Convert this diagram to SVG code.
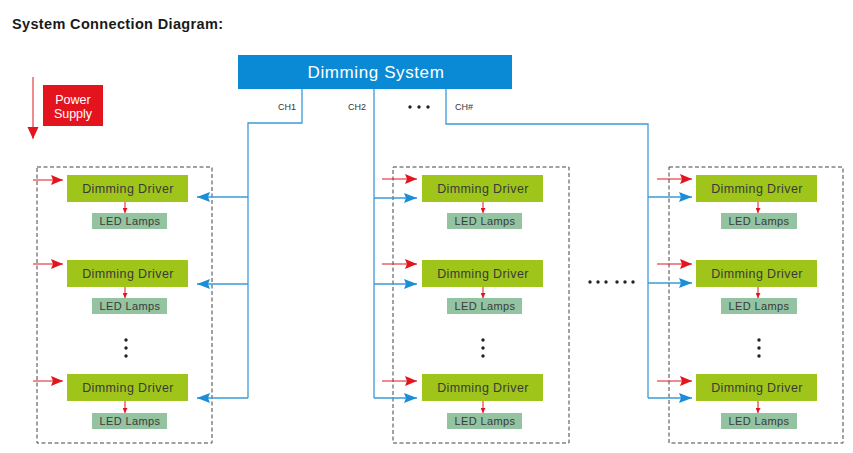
<svg xmlns="http://www.w3.org/2000/svg" width="853" height="453" viewBox="0 0 853 453">
<style>
.drv{fill:#9fc51a}
.led{fill:#93c3a0}
.t{font-family:"Liberation Sans",Arial,sans-serif;fill:#3a3a3a;text-anchor:middle}
.dt{font-size:12.5px;letter-spacing:0.4px}
.lt{font-size:11px;letter-spacing:0.4px}
.ch{font-family:"Liberation Sans",Arial,sans-serif;font-size:9px;fill:#333}
.grp{fill:none;stroke:#444;stroke-width:1;stroke-dasharray:4,2.5}
.red{stroke:#e3141e;stroke-width:1;fill:none}
.blue{stroke:#3a9ad9;stroke-width:1.3;fill:none}
.dot{fill:#222}
</style>
<defs>
<marker id="ar" markerUnits="userSpaceOnUse" markerWidth="12" markerHeight="10" refX="12" refY="5" orient="auto"><path d="M0,0 L12,5 L0,10 L2,5 z" fill="#e3141e"/></marker>
<marker id="ab" markerUnits="userSpaceOnUse" markerWidth="13" markerHeight="10" refX="13" refY="5" orient="auto"><path d="M0,0 L13,5 L0,10 L2,5 z" fill="#1a8ed8"/></marker>
<marker id="as" markerUnits="userSpaceOnUse" markerWidth="5" markerHeight="5" refX="5" refY="2.5" orient="auto"><path d="M0,0 L5,2.5 L0,5 z" fill="#e3141e"/></marker>
<marker id="ap" markerUnits="userSpaceOnUse" markerWidth="11" markerHeight="12" refX="12" refY="5.5" orient="auto"><path d="M0,0 L12,5.5 L0,11 z" fill="#e3141e"/></marker>
</defs>
<rect width="853" height="453" fill="#fff"/>
<text x="12" y="29" font-family="Liberation Sans,Arial,sans-serif" font-weight="bold" font-size="14.5" letter-spacing="0.35" fill="#1a1a1a">System Connection Diagram:</text>

<g id="dimming-system">
<rect x="238" y="55" width="274" height="34" fill="#0a8ad4"/>
<text x="376" y="78" font-family="Liberation Sans,Arial,sans-serif" font-size="17" fill="#fff" text-anchor="middle" letter-spacing="0.6">Dimming System</text>
</g>
<g id="power-supply">
<rect x="43" y="85" width="60" height="41" fill="#e3141e"/>
<text x="73" y="104" font-family="Liberation Sans,Arial,sans-serif" font-size="12.5" fill="#fff" text-anchor="middle">Power</text>
<text x="73" y="118" font-family="Liberation Sans,Arial,sans-serif" font-size="12.5" fill="#fff" text-anchor="middle">Supply</text>
</g>
<g id="labels">
<text class="ch" x="278" y="110">CH1</text>
<text class="ch" x="348" y="110">CH2</text>
<text class="ch" x="455" y="110">CH#</text>
<circle class="dot" cx="410" cy="107" r="1.7"/><circle class="dot" cx="419" cy="107" r="1.7"/><circle class="dot" cx="428" cy="107" r="1.7"/>
<circle class="dot" cx="590" cy="282" r="1.7"/><circle class="dot" cx="598" cy="282" r="1.7"/><circle class="dot" cx="606" cy="282" r="1.7"/>
<circle class="dot" cx="617" cy="282" r="1.7"/><circle class="dot" cx="625" cy="282" r="1.7"/><circle class="dot" cx="633" cy="282" r="1.7"/>
</g>

<g id="group1">
<rect class="grp" x="37" y="167" width="175" height="276"/>
<rect class="drv" x="67" y="175" width="121" height="27"/><text class="t dt" x="128" y="193">Dimming Driver</text>
<rect class="led" x="92" y="213" width="75" height="16"/><text class="t lt" x="130" y="225">LED Lamps</text>
<rect class="drv" x="67" y="260" width="121" height="27"/><text class="t dt" x="128" y="278">Dimming Driver</text>
<rect class="led" x="92" y="298" width="75" height="16"/><text class="t lt" x="130" y="310">LED Lamps</text>
<circle class="dot" cx="126" cy="340" r="1.7"/><circle class="dot" cx="126" cy="348" r="1.7"/><circle class="dot" cx="126" cy="356" r="1.7"/>
<rect class="drv" x="67" y="374" width="121" height="27"/><text class="t dt" x="128" y="392">Dimming Driver</text>
<rect class="led" x="92" y="413" width="75" height="16"/><text class="t lt" x="130" y="425">LED Lamps</text>
</g>

<g id="group2">
<rect class="grp" x="393" y="167" width="176" height="276"/>
<rect class="drv" x="422" y="175" width="121" height="27"/><text class="t dt" x="483" y="193">Dimming Driver</text>
<rect class="led" x="447" y="213" width="75" height="16"/><text class="t lt" x="485" y="225">LED Lamps</text>
<rect class="drv" x="422" y="260" width="121" height="27"/><text class="t dt" x="483" y="278">Dimming Driver</text>
<rect class="led" x="447" y="298" width="75" height="16"/><text class="t lt" x="485" y="310">LED Lamps</text>
<circle class="dot" cx="483" cy="340" r="1.7"/><circle class="dot" cx="483" cy="348" r="1.7"/><circle class="dot" cx="483" cy="356" r="1.7"/>
<rect class="drv" x="422" y="374" width="121" height="27"/><text class="t dt" x="483" y="392">Dimming Driver</text>
<rect class="led" x="447" y="413" width="75" height="16"/><text class="t lt" x="485" y="425">LED Lamps</text>
</g>

<g id="group3">
<rect class="grp" x="669" y="167" width="174" height="276"/>
<rect class="drv" x="696" y="175" width="121" height="27"/><text class="t dt" x="757" y="193">Dimming Driver</text>
<rect class="led" x="721" y="213" width="76" height="16"/><text class="t lt" x="759" y="225">LED Lamps</text>
<rect class="drv" x="696" y="260" width="121" height="27"/><text class="t dt" x="757" y="278">Dimming Driver</text>
<rect class="led" x="721" y="298" width="76" height="16"/><text class="t lt" x="759" y="310">LED Lamps</text>
<circle class="dot" cx="759" cy="340" r="1.7"/><circle class="dot" cx="759" cy="348" r="1.7"/><circle class="dot" cx="759" cy="356" r="1.7"/>
<rect class="drv" x="696" y="374" width="121" height="27"/><text class="t dt" x="757" y="392">Dimming Driver</text>
<rect class="led" x="721" y="413" width="76" height="16"/><text class="t lt" x="759" y="425">LED Lamps</text>
</g>

<g id="connectors">
<line class="red" x1="33" y1="77" x2="33" y2="139" stroke-width="1.3" marker-end="url(#ap)"/>
<polyline class="blue" points="302,89 302,123 248,123 248,398"/>
<polyline class="blue" points="374,89 374,398"/>
<polyline class="blue" points="446,89 446,124 648,124 648,398"/>
<line class="blue" x1="248" y1="197" x2="197" y2="197" marker-end="url(#ab)"/>
<line class="blue" x1="248" y1="284" x2="197" y2="284" marker-end="url(#ab)"/>
<line class="blue" x1="248" y1="398" x2="197" y2="398" marker-end="url(#ab)"/>
<line class="blue" x1="374" y1="198" x2="417" y2="198" marker-end="url(#ab)"/>
<line class="blue" x1="374" y1="284" x2="417" y2="284" marker-end="url(#ab)"/>
<line class="blue" x1="374" y1="398" x2="417" y2="398" marker-end="url(#ab)"/>
<line class="blue" x1="648" y1="197" x2="692" y2="197" marker-end="url(#ab)"/>
<line class="blue" x1="648" y1="283" x2="692" y2="283" marker-end="url(#ab)"/>
<line class="blue" x1="648" y1="398" x2="692" y2="398" marker-end="url(#ab)"/>
<line class="red" x1="33" y1="180" x2="63" y2="180" marker-end="url(#ar)"/>
<line class="red" x1="33" y1="264" x2="63" y2="264" marker-end="url(#ar)"/>
<line class="red" x1="33" y1="381" x2="63" y2="381" marker-end="url(#ar)"/>
<line class="red" x1="382" y1="179" x2="417" y2="179" marker-end="url(#ar)"/>
<line class="red" x1="382" y1="264" x2="417" y2="264" marker-end="url(#ar)"/>
<line class="red" x1="382" y1="381" x2="417" y2="381" marker-end="url(#ar)"/>
<line class="red" x1="657" y1="179" x2="692" y2="179" marker-end="url(#ar)"/>
<line class="red" x1="657" y1="264" x2="692" y2="264" marker-end="url(#ar)"/>
<line class="red" x1="657" y1="381" x2="692" y2="381" marker-end="url(#ar)"/>
<line class="red" x1="125" y1="202" x2="125" y2="213" marker-end="url(#as)"/>
<line class="red" x1="125" y1="287" x2="125" y2="298" marker-end="url(#as)"/>
<line class="red" x1="125" y1="401" x2="125" y2="413" marker-end="url(#as)"/>
<line class="red" x1="483" y1="202" x2="483" y2="213" marker-end="url(#as)"/>
<line class="red" x1="483" y1="287" x2="483" y2="298" marker-end="url(#as)"/>
<line class="red" x1="483" y1="401" x2="483" y2="413" marker-end="url(#as)"/>
<line class="red" x1="758" y1="202" x2="758" y2="213" marker-end="url(#as)"/>
<line class="red" x1="758" y1="287" x2="758" y2="298" marker-end="url(#as)"/>
<line class="red" x1="758" y1="401" x2="758" y2="413" marker-end="url(#as)"/>
</g>
</svg>
